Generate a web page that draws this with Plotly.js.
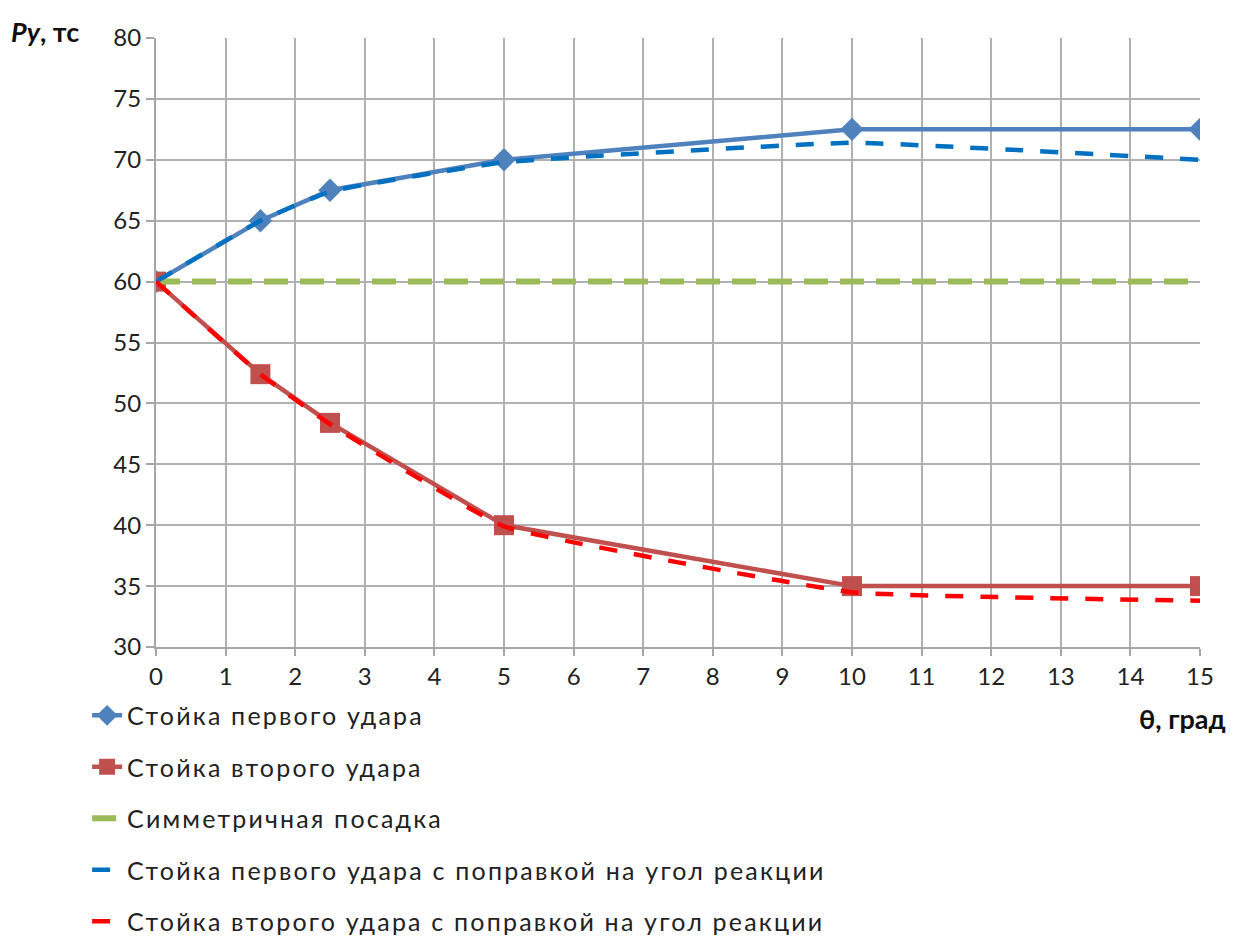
<!DOCTYPE html>
<html>
<head>
<meta charset="utf-8">
<script src="https://cdn.plot.ly/plotly-3.0.1.min.js"></script>
<style>
html,body{margin:0;padding:0;background:#fff;overflow:hidden;}
#chart{width:1234px;height:975px;}
.legendtext{letter-spacing:2.2px;}
</style>
</head>
<body>
<div id="chart"></div>
<script>
const theta = [0, 1.5, 2.5, 5, 10, 15];
const firstStrut = [60, 65, 67.5, 70, 72.5, 72.5];
const secondStrut = [60, 52.4, 48.4, 40, 35, 35];
const symmetric = [60, 60, 60, 60, 60, 60];
const firstStrutCorr = [60, 65, 67.4, 69.8, 71.4, 70.0];
const secondStrutCorr = [60, 52.4, 48.3, 39.9, 34.5, 33.8];
const names = [
  "Стойка первого удара",
  "Стойка второго удара",
  "Симметричная посадка",
  "Стойка первого удара с поправкой на угол реакции",
  "Стойка второго удара с поправкой на угол реакции"
];
const yTicks = [30, 35, 40, 45, 50, 55, 60, 65, 70, 75, 80];
const xTicks = [0,1,2,3,4,5,6,7,8,9,10,11,12,13,14,15];

const FONT = "Lato, 'Open Sans', sans-serif";

const traces = [
  {x: theta, y: firstStrut, name: names[0], legendgroup: "a", mode: "lines+markers",
   line: {color: "#4F81BD", width: 4.5}, marker: {symbol: "diamond", size: 18, color: "#4F81BD"}},
  {x: theta, y: secondStrut, name: names[1], legendgroup: "b", mode: "lines+markers",
   line: {color: "#C0504D", width: 4.5}, marker: {symbol: "square", size: 20, color: "#C0504D"}},
  {x: theta, y: symmetric, name: names[2], legendgroup: "c", mode: "lines",
   line: {color: "#9BBB59", width: 6, dash: "24px,12px"}},
  {x: theta, y: firstStrutCorr, name: names[3], legendgroup: "d", mode: "lines",
   line: {color: "#0070C0", width: 4.5, shape: "spline", smoothing: 0.3, dash: "18px,17px"}},
  {x: theta, y: secondStrutCorr, name: names[4], legendgroup: "e", mode: "lines",
   line: {color: "#FF0000", width: 4.5, shape: "spline", smoothing: 0.3, dash: "18px,17px"}}
];

const layout = {
  width: 1234, height: 975,
  paper_bgcolor: "#fff", plot_bgcolor: "#fff",
  margin: {l: 156, r: 34, t: 38, b: 328},
  font: {family: FONT, size: 24, color: "#222"},
  showlegend: true,
  legend: {x: -0.066, xanchor: "left", y: -0.0749, yanchor: "top",
           font: {family: FONT, size: 25, color: "#222"}, tracegroupgap: 16,
           bgcolor: "rgba(0,0,0,0)"},
  xaxis: {range: [0, 15], tickvals: xTicks, ticktext: xTicks.map(String),
          showgrid: true, gridcolor: "#b0b0b0", gridwidth: 2,
          showline: true, linecolor: "#a6a6a6", linewidth: 2,
          ticks: "outside", ticklen: 7, tickcolor: "#a6a6a6", tickwidth: 2,
          zeroline: false, tickfont: {size: 24, family: FONT, color: "#222"}},
  yaxis: {range: [30, 80], tickvals: yTicks, ticktext: yTicks.map(String),
          showgrid: true, gridcolor: "#b0b0b0", gridwidth: 2,
          showline: true, linecolor: "#a6a6a6", linewidth: 2,
          ticks: "outside", ticklen: 8, tickcolor: "#a6a6a6", tickwidth: 2,
          zeroline: false, tickfont: {size: 24, family: FONT, color: "#222"}},
  annotations: [
    {xref: "paper", yref: "paper", x: -0.141, y: 1.01, xanchor: "left", yanchor: "middle",
     text: "<b><i>Py</i>, тс</b>", showarrow: false, font: {family: FONT, size: 27, color: "#111"}},
    {xref: "paper", yref: "paper", x: 1.0 + 28/1044, y: -0.118, xanchor: "right", yanchor: "middle",
     text: "<b>θ, град</b>", showarrow: false, font: {family: FONT, size: 27, color: "#111"}}
  ]
};

Plotly.newPlot("chart", traces, layout, {displayModeBar: false, staticPlot: true});
</script>
</body>
</html>
